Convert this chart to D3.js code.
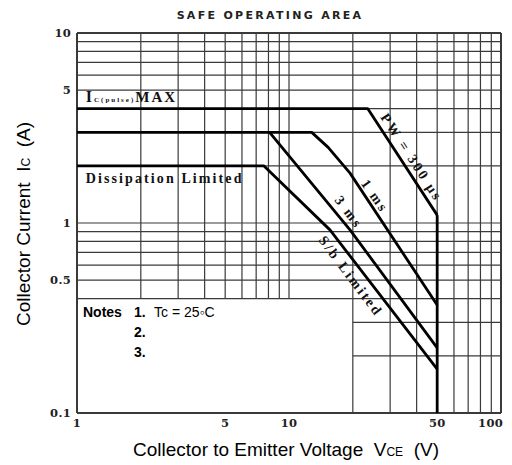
<!DOCTYPE html>
<html>
 <head>
   <title>Safe Operating Area</title>
   <script type="text/javascript" src="https://cdn.jsdelivr.net/npm/d3@7/dist/d3.min.js"></script>
   <style type="text/css">
		body { margin: 0; background: #fff; }
		svg { display: block; }
		.grid line { stroke: #3a3a3a; stroke-width: 1.2; }
		.curve { stroke: #000; stroke-width: 2.8; fill: none; stroke-linejoin: round; }
		.tick { font-family: "DejaVu Serif"; font-weight: bold; font-size: 11.5px; fill: #222; letter-spacing: 0.3px; }
		.lbl { font-family: "Liberation Serif"; font-weight: bold; font-size: 14px; fill: #111; letter-spacing: 1.8px; }
		.axis-title { font-family: "Liberation Sans", Arial; font-size: 19px; fill: #000; }
		.notes { font-family: "Liberation Sans", Arial; font-size: 14px; fill: #000; }
   </style>
 </head>
 <body>
   <script type="text/javascript">

	// axis ticks and grid
	var xTicks = [1, 5, 10, 50, 100];
	var yTicks = [0.1, 0.5, 1, 5, 10];
	var gridV = [1, 2, 3, 4, 5, 6, 7, 8, 9, 10, 20, 30, 40, 50, 60, 70, 80, 90, 100];
	var gridH = [0.1, 0.2, 0.3, 0.4, 0.5, 0.6, 0.7, 0.8, 0.9, 1, 2, 3, 4, 5, 6, 7, 8, 9, 10];

	// SOA boundaries, [VCE (V), IC (A)]
	var pw300us = [[1, 4], [23.5, 4], [50, 1.1]];
	var pw1ms = [[1, 3], [12.8, 3], [15.3, 2.5], [19.4, 1.83], [50, 0.37]];
	var pw3ms = [[8.1, 3], [19.4, 0.92], [50, 0.22]];
	var dcLimit = [[1, 2], [7.6, 2], [15.6, 0.92], [50, 0.17]];
	var vceoLimit = [[50, 1.1], [50, 0.1]];

	// empty corner for the notes
	var notesV = [1, 20], notesI = [0.1, 0.4];

	var W = 512, H = 465;
	var sp = '\u00a0\u00a0';

	var x = d3.scaleLog().domain([1, 100]).range([77, 501]);
	var y = d3.scaleLog().domain([0.1, 10]).range([413, 33]);

	var svg = d3.select('body').append('svg')
		.attr('width', W)
		.attr('height', H);

	var grid = svg.append('g').attr('class', 'grid');

	grid.selectAll('line.v').data(gridV)
		.enter().append('line')
		.attr('class', 'v')
		.attr('x1', function(d) { return x(d) })
		.attr('x2', function(d) { return x(d) })
		.attr('y1', y(10))
		.attr('y2', function(d) { return (d > notesV[0] && d < notesV[1]) ? y(notesI[1]) : y(0.1) })
		.style('stroke-width', function(d) { return (d == 1 || d == 100) ? 2 : 1.2 });

	grid.selectAll('line.h').data(gridH)
		.enter().append('line')
		.attr('class', 'h')
		.attr('y1', function(d) { return y(d) })
		.attr('y2', function(d) { return y(d) })
		.attr('x1', function(d) { return (d > notesI[0] + 1e-9 && d < notesI[1] - 1e-9) ? x(notesV[1]) : x(1) })
		.attr('x2', x(100))
		.style('stroke-width', function(d) { return (d == 0.1 || d == 10) ? 2 : 1.2 });

	// boundary curves
	var line = d3.line()
		.x(function(d) { return x(d[0]) })
		.y(function(d) { return y(d[1]) });

	svg.selectAll('path.curve').data([pw300us, pw1ms, pw3ms, dcLimit, vceoLimit])
		.enter().append('path')
		.attr('class', 'curve')
		.attr('d', line);

	// tick labels (last one kept inside the page)
	svg.selectAll('text.xt').data(xTicks)
		.enter().append('text')
		.attr('class', 'tick xt')
		.attr('x', function(d, i) { return i == xTicks.length - 1 ? x(d) + 2 : x(d) })
		.attr('y', 427)
		.attr('text-anchor', function(d, i) { return i == xTicks.length - 1 ? 'end' : 'middle' })
		.text(function(d) { return d });

	svg.selectAll('text.yt').data(yTicks)
		.enter().append('text')
		.attr('class', 'tick yt')
		.attr('x', 71)
		.attr('y', function(d) { return y(d) + 4 })
		.attr('text-anchor', 'end')
		.text(function(d) { return d });

	// title
	svg.append('text')
		.attr('x', 270).attr('y', 19)
		.attr('text-anchor', 'middle')
		.style('font-family', 'DejaVu Sans')
		.style('font-weight', 'bold')
		.style('font-size', '11px')
		.style('letter-spacing', '2.3px')
		.style('fill', '#222')
		.text('SAFE OPERATING AREA');

	// in-plot labels
	var ic = svg.append('text').attr('class', 'lbl')
		.attr('x', x(1.1)).attr('y', y(4) - 7)
		.style('letter-spacing', '2px');
	ic.append('tspan').style('font-size', '16px').text('I');
	ic.append('tspan').style('font-size', '7px').style('letter-spacing', '2px').text('C(pulse)');
	ic.append('tspan').style('font-size', '15px').text('MAX');

	svg.append('text').attr('class', 'lbl')
		.attr('x', x(1.1)).attr('y', y(2) + 17)
		.style('letter-spacing', '2.1px')
		.text('Dissipation Limited');

	var rot = [
		{ t: 'PW = 300 \u00b5s', v: 38, i: 2.22, a: 57 },
		{ t: '1 ms', v: 25.5, i: 1.39, a: 55 },
		{ t: '3 ms', v: 19.2, i: 1.14, a: 53 },
		{ t: 'S/b Limited', v: 19.6, i: 0.526, a: 53 }
	];
	svg.selectAll('text.rot').data(rot)
		.enter().append('text')
		.attr('class', 'lbl rot')
		.attr('text-anchor', 'middle')
		.attr('transform', function(d) { return 'translate(' + x(d.v) + ',' + y(d.i) + ') rotate(' + d.a + ')' })
		.attr('dy', '0.35em')
		.style('letter-spacing', '2.4px')
		.text(function(d) { return d.t });

	// axis titles
	var xt = svg.append('text').attr('class', 'axis-title')
		.attr('x', 286).attr('y', 456)
		.attr('text-anchor', 'middle');
	xt.append('tspan').text('Collector to Emitter Voltage' + sp + 'V');
	xt.append('tspan').style('font-size', '12px').text('CE');
	xt.append('tspan').text(sp + '(V)');

	var yt = svg.append('text').attr('class', 'axis-title')
		.attr('transform', 'translate(30,224) rotate(-90)')
		.attr('text-anchor', 'middle');
	yt.append('tspan').text('Collector Current' + sp + 'I');
	yt.append('tspan').style('font-size', '12px').text('C');
	yt.append('tspan').text(sp + '(A)');

	// notes
	var notes = svg.append('g').attr('class', 'notes');
	notes.append('text').attr('x', 83).attr('y', 317).style('font-weight', 'bold').text('Notes');
	notes.selectAll('text.n').data(['1.', '2.', '3.'])
		.enter().append('text')
		.attr('class', 'n')
		.attr('x', 134)
		.attr('y', function(d, i) { return 317 + i * 20 })
		.style('font-weight', 'bold')
		.text(function(d) { return d });
	notes.append('text').attr('x', 154).attr('y', 317).text('Tc = 25\u25e6C');

    </script>
 </body>
</html>
